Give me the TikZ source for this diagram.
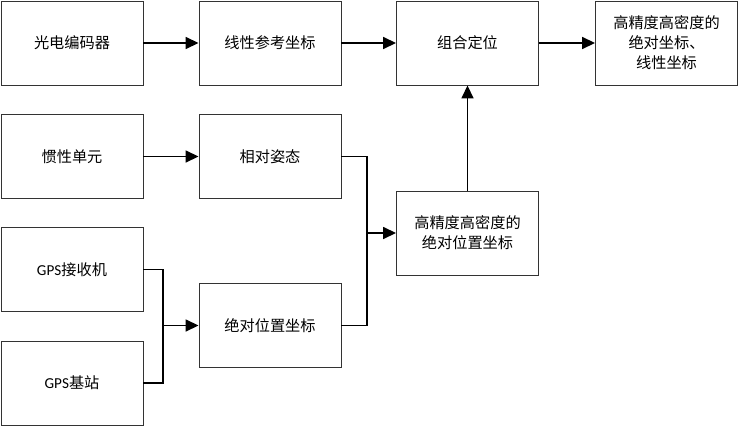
\documentclass[tikz,border=0pt]{standalone}
\usepackage{fontspec}
\setmainfont{Noto Sans CJK SC}
\newfontfamily\latinfont{Carlito}
\usetikzlibrary{arrows.meta}

\begin{document}
\begin{tikzpicture}[x=1pt, y=-1pt,
  block/.style={draw=black!80, line width=0.9pt, fill=white, minimum width=142pt, minimum height=84pt,
    align=center, font=\fontsize{15.2}{20}\selectfont, inner sep=2pt},
  link/.style={line width=1.6pt},
  arr/.style={link, -{Triangle[length=13pt, width=12pt]}}]

% Frame
\useasboundingbox (0,0) rectangle (738,426);

% Blocks
\node[block] (enc)  at (72,43)     {光电编码器};
\node[block] (lin)  at (270,43)    {线性参考坐标};
\node[block] (comb) at (467.5,43)  {组合定位};
\node[block] (out)  at (666.5,43)  {高精度高密度的\\绝对坐标、\\线性坐标};
\node[block] (imu)  at (72,156.5)  {惯性单元};
\node[block] (att)  at (270,156.5) {相对姿态};
\node[block] (gpsr) at (72,269.5)  {{\latinfont GPS}接收机};
\node[block] (gpsb) at (72,383)    {{\latinfont GPS}基站};
\node[block] (abs)  at (270,325.5) {绝对位置坐标};
\node[block] (hpos) at (467.5,233) {高精度高密度的\\绝对位置坐标};

% Merge points
\coordinate (m1) at (163,325.5);
\coordinate (m2) at (367,233);

% Arrows
\draw[arr] (enc) -- (lin);
\draw[arr] (lin) -- (comb);
\draw[arr] (comb) -- (out);
\draw[arr] (imu) -- (att);
\draw[arr] (hpos) -- (comb);

\draw[link] (gpsr.east) -| (m1);
\draw[link] (gpsb.east) -| (m1);
\draw[arr] (m1) -- (abs.west);

\draw[link] (att.east) -| (m2);
\draw[link] (abs.east) -| (m2);
\draw[arr] (m2) -- (hpos.west);

\end{tikzpicture}
\end{document}
